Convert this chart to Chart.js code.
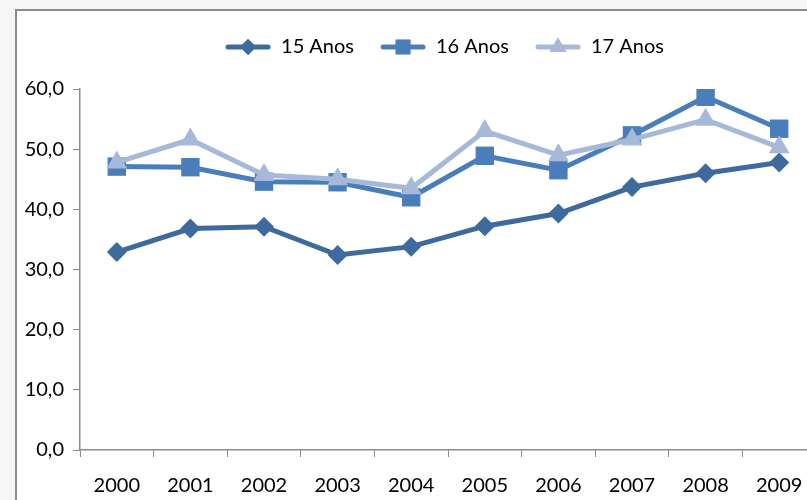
<!DOCTYPE html>
<html>
<head>
<meta charset="utf-8">
<script src="https://cdn.jsdelivr.net/npm/chart.js@4"></script>
<style>
  html, body { margin: 0; padding: 0; width: 807px; height: 500px; overflow: hidden; background: #f6f6f6; }
  #frame { position: absolute; left: 15px; top: 9px; width: 900px; height: 600px; background: #fff;
           border-left: 2px solid #8c8c8c; border-top: 2px solid #8c8c8c; }
  #wrap { position: absolute; left: 17px; top: 11px; width: 830px; height: 489px; }
</style>
</head>
<body>
<div id="frame"></div>
<div id="wrap"><canvas id="chart"></canvas></div>
<script>
const years = ["2000", "2001", "2002", "2003", "2004", "2005", "2006", "2007", "2008", "2009"];
const anos15 = [32.9, 36.8, 37.1, 32.4, 33.8, 37.2, 39.3, 43.7, 46.0, 47.8];
const anos16 = [47.1, 47.0, 44.6, 44.5, 42.0, 48.9, 46.5, 52.3, 58.7, 53.4];
const anos17 = [47.8, 51.6, 45.7, 45.0, 43.5, 53.0, 49.0, 51.6, 54.9, 50.3];
const seriesNames = ["15 Anos", "16 Anos", "17 Anos"];
const yTicks = [0, 10, 20, 30, 40, 50, 60];

const colors = ["#3E6A9E", "#4A7EBB", "#A7B9D9"];
const styles = ["rectRot", "rect", "triangle"];
const radii = [10, 13, 12];
const font = "Lato, 'Open Sans', sans-serif";
const chartTop = 78; // where the plot area should start inside the canvas

// small legend icons: line with the marker on top
function legendIcon(i) {
  const c = document.createElement("canvas");
  c.width = 46; c.height = 24;
  const g = c.getContext("2d");
  g.strokeStyle = colors[i];
  g.fillStyle = colors[i];
  g.lineWidth = 5;
  g.lineCap = "round";
  g.beginPath(); g.moveTo(3, 12); g.lineTo(43, 12); g.stroke();
  Chart.helpers.drawPoint(g, { pointStyle: styles[i], radius: radii[i] * 0.8, borderWidth: 0 }, 23, 12);
  g.fill();
  return c;
}

const series = [anos15, anos16, anos17];
const datasets = series.map((d, i) => ({
  label: seriesNames[i],
  data: d,
  borderColor: colors[i],
  backgroundColor: colors[i],
  borderWidth: 5,
  pointStyle: styles[i],
  pointRadius: radii[i],
  pointHoverRadius: radii[i],
  pointBorderWidth: 0,
  tension: 0,
  order: 3 - i
}));

const shiftLegend = {
  id: "shiftLegend",
  afterLayout(chart) { chart.legend.left += 56; }
};

const chart = new Chart(document.getElementById("chart"), {
  type: "line",
  data: { labels: years, datasets: datasets },
  plugins: [shiftLegend],
  options: {
    responsive: true,
    maintainAspectRatio: false,
    animation: false,
    layout: { padding: { top: 0, right: 31, left: 0, bottom: 0 } },
    plugins: {
      tooltip: { enabled: false },
      legend: {
        position: "top",
        labels: {
          color: "#000",
          font: { family: font, size: 20 },
          usePointStyle: true,
          pointStyleWidth: 46,
          padding: 26,
          generateLabels: (chart) => chart.data.datasets.map((ds, i) => ({
            text: ds.label,
            pointStyle: legendIcon(i),
            fillStyle: colors[i],
            strokeStyle: colors[i],
            lineWidth: 0,
            datasetIndex: i
          }))
        }
      }
    },
    scales: {
      x: {
        offset: true,
        grid: { offset: true, drawOnChartArea: false, drawTicks: true, tickLength: 7, color: "#8c8c8c" },
        border: { color: "#8c8c8c", width: 1.5 },
        ticks: { color: "#000", font: { family: font, size: 20 }, padding: 17, maxRotation: 0 },
        afterFit: (s) => { s.height = 50; }
      },
      y: {
        min: 0,
        max: 60,
        afterBuildTicks: (s) => { s.ticks = yTicks.map(v => ({ value: v })); },
        grid: { drawOnChartArea: false, drawTicks: true, tickLength: 7, color: "#8c8c8c" },
        border: { color: "#8c8c8c", width: 1.5 },
        ticks: {
          color: "#000",
          font: { family: font, size: 20 },
          padding: 9,
          callback: (v) => v.toFixed(1).replace(".", ",")
        },
        afterFit: (s) => { s.width = 63; }
      }
    }
  }
});

// make the legend box tall enough so the plot starts where the reference does
const legendFit = chart.legend.fit;
chart.legend.fit = function () {
  legendFit.call(this);
  this.height = chartTop;
};
chart.update();
</script>
</body>
</html>
